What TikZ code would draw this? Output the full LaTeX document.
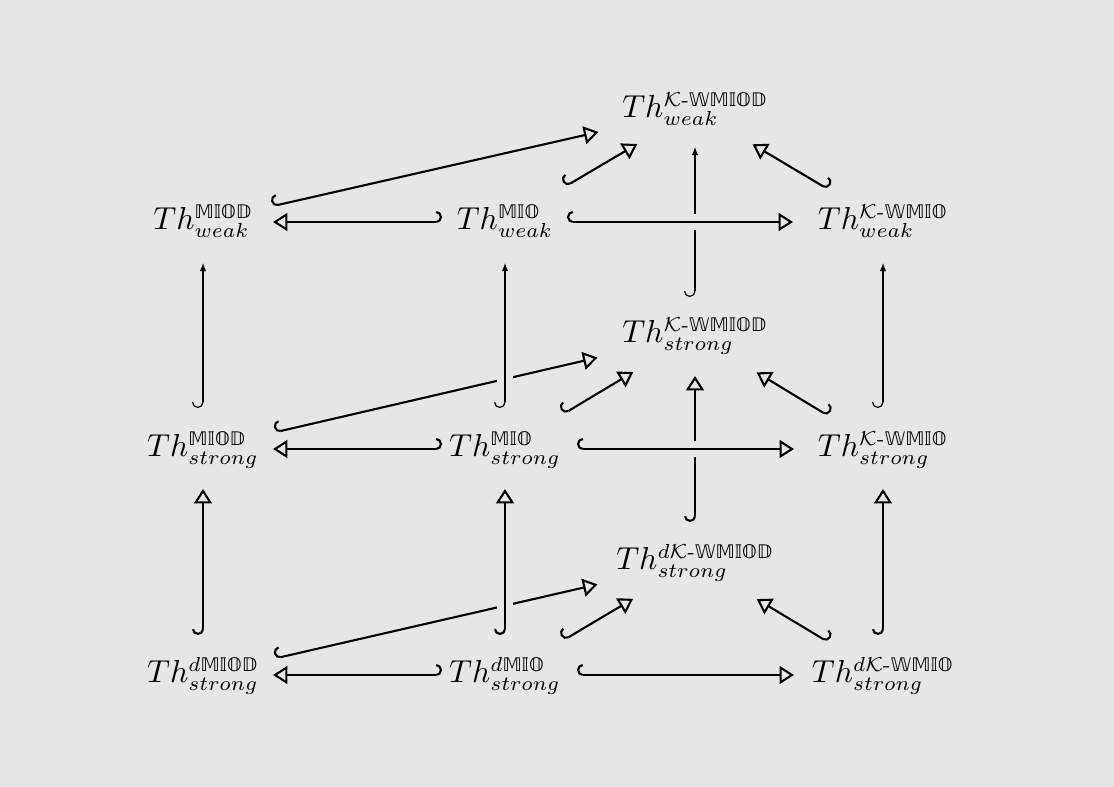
\documentclass[tikz,border=0pt]{standalone}
\usepackage{amsmath}
\usepackage{fontspec}
\newfontfamily\dsf[Scale=0.95]{DejaVu Sans}
\newcommand{\dbb}[1]{\text{\dsf #1}}
\DeclareMathSizes{11}{11}{6.8}{5}
\usetikzlibrary{arrows.meta}
\definecolor{bgc}{RGB}{230,230,230}
\begin{document}
\begin{tikzpicture}[x=0.345pt,y=-0.345pt,
  lbl/.style={inner sep=0pt, text height=9.2pt, text depth=4pt, font=\fontsize{11}{13}\selectfont},
  sh/.style 2 args={shorten <=#1*0.345pt, shorten >=#2*0.345pt},
  thkR/.style={line width=0.72pt, arrows={Hooks[arc=180,length=2pt,width=7.6pt,right]-Triangle[open,length=5pt,width=6.2pt]}},
  thkL/.style={line width=0.72pt, arrows={Hooks[arc=180,length=2pt,width=7.6pt,left]-Triangle[open,length=5pt,width=6.2pt]}},
  thn/.style={line width=0.4pt, arrows={Hooks[arc=180,length=2pt,width=7.6pt,right]-Latex[length=2.8pt,width=2.2pt]}},
  over/.style={preaction={draw=bgc, line width=5.5pt, arrows=-}}]
\fill[bgc] (0,0) rectangle (1114,787);
\useasboundingbox (0,0) rectangle (1114,787);
% nodes
\node[lbl] (A1) at (695,110) {$Th^{\mathcal{K}\text{-}\dbb{𝕎𝕄𝕀𝕆𝔻}}_{weak}$};
\node[lbl] (B1) at (203,222) {$Th^{\dbb{𝕄𝕀𝕆𝔻}}_{weak}$};
\node[lbl] (B2) at (505,222) {$Th^{\dbb{𝕄𝕀𝕆}}_{weak}$};
\node[lbl] (B3) at (883,222) {$Th^{\mathcal{K}\text{-}\dbb{𝕎𝕄𝕀𝕆}}_{weak}$};
\node[lbl] (C)  at (695,335) {$Th^{\mathcal{K}\text{-}\dbb{𝕎𝕄𝕀𝕆𝔻}}_{strong}$};
\node[lbl] (D1) at (203,449) {$Th^{\dbb{𝕄𝕀𝕆𝔻}}_{strong}$};
\node[lbl] (D2) at (505,449) {$Th^{\dbb{𝕄𝕀𝕆}}_{strong}$};
\node[lbl] (D3) at (883,449) {$Th^{\mathcal{K}\text{-}\dbb{𝕎𝕄𝕀𝕆}}_{strong}$};
\node[lbl] (E)  at (695,562) {$Th^{d\mathcal{K}\text{-}\dbb{𝕎𝕄𝕀𝕆𝔻}}_{strong}$};
\node[lbl] (F1) at (203,675) {$Th^{d\dbb{𝕄𝕀𝕆𝔻}}_{strong}$};
\node[lbl] (F2) at (505,675) {$Th^{d\dbb{𝕄𝕀𝕆}}_{strong}$};
\node[lbl] (F3) at (883,675) {$Th^{d\mathcal{K}\text{-}\dbb{𝕎𝕄𝕀𝕆}}_{strong}$};
% arrows passing under
\draw[thn, sh={38}{37}] (C.center) -- (A1.center);
\draw[thkR, sh={40}{41}] (E.center) -- (C.center);
\draw[thkR, sh={74}{100}] (D1.center) -- (C.center);
\draw[thkR, sh={74}{100}] (F1.center) -- (E.center);
% weak level
\draw[thkL, sh={63}{70}] (B2.center) -- (B1.center);
\draw[thkR, sh={71}{99}] (B1.center) -- (A1.center);
\draw[thkR, sh={70}{67}] (B2.center) -- (A1.center);
\draw[thkL, sh={64}{67}] (B3.center) -- (A1.center);
\draw[thkR, over, sh={62}{90}] (B2.center) -- (B3.center);
% strong level
\draw[thkL, sh={63}{70}] (D2.center) -- (D1.center);
\draw[thkR, sh={68}{72}] (D2.center) -- (C.center);
\draw[thkL, sh={64}{72}] (D3.center) -- (C.center);
\draw[thkR, over, sh={72}{89}] (D2.center) -- (D3.center);
\draw[thn, sh={41}{41}] (D1.center) -- (B1.center);
\draw[thn, over, sh={41}{41}] (D2.center) -- (B2.center);
\draw[thn, sh={41}{41}] (D3.center) -- (B3.center);
% d level
\draw[thkL, sh={63}{70}] (F2.center) -- (F1.center);
\draw[thkR, sh={68}{72}] (F2.center) -- (E.center);
\draw[thkL, sh={64}{72}] (F3.center) -- (E.center);
\draw[thkR, sh={72}{89}] (F2.center) -- (F3.center);
\draw[thkR, sh={40}{40}] (F1.center) -- (D1.center);
\draw[thkR, over, sh={40}{40}] (F2.center) -- (D2.center);
\draw[thkR, sh={40}{40}] (F3.center) -- (D3.center);
\end{tikzpicture}
\end{document}
